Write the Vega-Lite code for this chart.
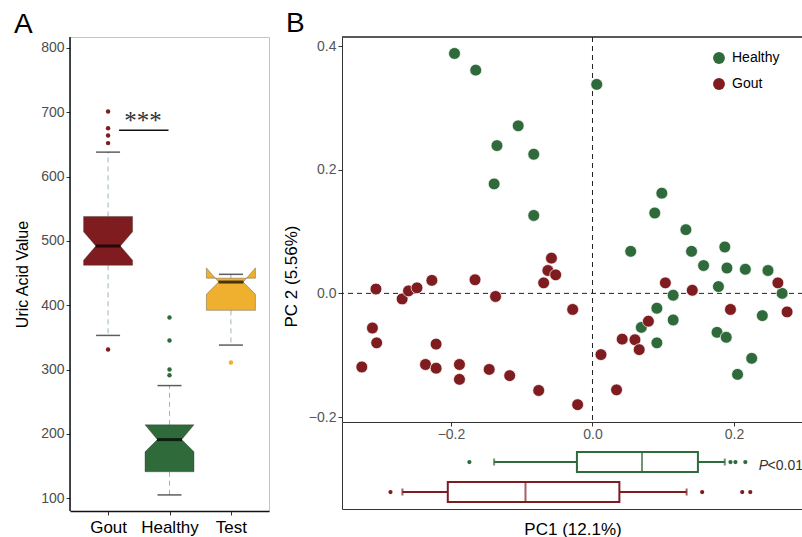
{
  "$schema": "https://vega.github.io/schema/vega-lite/v6.json",
  "padding": {"left": 13, "top": 10, "right": 0, "bottom": 0},
  "autosize": {"type": "pad"},
  "config": {"font": "Liberation Sans", "view": {"stroke": null}, "axis": {"grid": false}},
  "datasets": {
    "notch": [
      {"group": "Gout", "i": 1, "w": -1, "v": 462}, {"group": "Gout", "i": 2, "w": -1, "v": 470}, {"group": "Gout", "i": 3, "w": -0.5, "v": 492}, {"group": "Gout", "i": 4, "w": -1, "v": 514}, {"group": "Gout", "i": 5, "w": -1, "v": 538}, {"group": "Gout", "i": 6, "w": 1, "v": 538}, {"group": "Gout", "i": 7, "w": 1, "v": 514}, {"group": "Gout", "i": 8, "w": 0.5, "v": 492}, {"group": "Gout", "i": 9, "w": 1, "v": 470}, {"group": "Gout", "i": 10, "w": 1, "v": 462}, {"group": "Gout", "i": 11, "w": -1, "v": 462},
      {"group": "Healthy", "i": 1, "w": -1, "v": 141}, {"group": "Healthy", "i": 2, "w": -1, "v": 172}, {"group": "Healthy", "i": 3, "w": -0.5, "v": 191}, {"group": "Healthy", "i": 4, "w": -1, "v": 214}, {"group": "Healthy", "i": 5, "w": 1, "v": 214}, {"group": "Healthy", "i": 6, "w": 0.5, "v": 191}, {"group": "Healthy", "i": 7, "w": 1, "v": 172}, {"group": "Healthy", "i": 8, "w": 1, "v": 141}, {"group": "Healthy", "i": 9, "w": -1, "v": 141},
      {"group": "Test", "i": 1, "w": -1, "v": 392}, {"group": "Test", "i": 2, "w": -1, "v": 417}, {"group": "Test", "i": 3, "w": -0.5, "v": 436}, {"group": "Test", "i": 4, "w": -1, "v": 458}, {"group": "Test", "i": 5, "w": -1, "v": 442}, {"group": "Test", "i": 6, "w": 1, "v": 442}, {"group": "Test", "i": 7, "w": 1, "v": 458}, {"group": "Test", "i": 8, "w": 0.5, "v": 436}, {"group": "Test", "i": 9, "w": 1, "v": 417}, {"group": "Test", "i": 10, "w": 1, "v": 392}, {"group": "Test", "i": 11, "w": -1, "v": 392}
    ],
    "whiskA": [
      {"group": "Gout", "from": 538, "to": 638}, {"group": "Gout", "from": 462, "to": 353},
      {"group": "Healthy", "from": 214, "to": 275}, {"group": "Healthy", "from": 141, "to": 105},
      {"group": "Test", "from": 442, "to": 448}, {"group": "Test", "from": 392, "to": 338}
    ],
    "capsA": [
      {"group": "Gout", "v": 638}, {"group": "Gout", "v": 353},
      {"group": "Healthy", "v": 275}, {"group": "Healthy", "v": 105},
      {"group": "Test", "v": 448}, {"group": "Test", "v": 338}
    ],
    "medA": [{"group": "Gout", "v": 492}, {"group": "Healthy", "v": 191}, {"group": "Test", "v": 436}],
    "outA": [
      {"group": "Gout", "v": 701}, {"group": "Gout", "v": 675}, {"group": "Gout", "v": 664}, {"group": "Gout", "v": 652}, {"group": "Gout", "v": 331},
      {"group": "Healthy", "v": 381}, {"group": "Healthy", "v": 345}, {"group": "Healthy", "v": 300}, {"group": "Healthy", "v": 291},
      {"group": "Test", "v": 311}
    ],
    "sig": [{"from": "Gout", "to": "Healthy", "v": 672, "tv": 687, "label": "***"}],
    "panelA": [{"label": "A", "x": "Gout", "y": 817}],
    "panelB": [{"label": "B", "x": -0.354, "y": 0.4146}],
    "pca": [
      {"group": "Healthy", "pc1": -0.195, "pc2": 0.388}, {"group": "Healthy", "pc1": -0.165, "pc2": 0.361}, {"group": "Healthy", "pc1": 0.006, "pc2": 0.338},
      {"group": "Healthy", "pc1": -0.105, "pc2": 0.271}, {"group": "Healthy", "pc1": -0.135, "pc2": 0.239}, {"group": "Healthy", "pc1": -0.083, "pc2": 0.225},
      {"group": "Healthy", "pc1": -0.139, "pc2": 0.177}, {"group": "Healthy", "pc1": -0.083, "pc2": 0.126}, {"group": "Healthy", "pc1": 0.098, "pc2": 0.162},
      {"group": "Healthy", "pc1": 0.088, "pc2": 0.130}, {"group": "Healthy", "pc1": 0.132, "pc2": 0.103}, {"group": "Healthy", "pc1": 0.054, "pc2": 0.068},
      {"group": "Healthy", "pc1": 0.140, "pc2": 0.068}, {"group": "Healthy", "pc1": 0.187, "pc2": 0.075}, {"group": "Healthy", "pc1": 0.157, "pc2": 0.045},
      {"group": "Healthy", "pc1": 0.190, "pc2": 0.041}, {"group": "Healthy", "pc1": 0.216, "pc2": 0.039}, {"group": "Healthy", "pc1": 0.248, "pc2": 0.037},
      {"group": "Healthy", "pc1": 0.178, "pc2": 0.011}, {"group": "Healthy", "pc1": 0.268, "pc2": 0.0}, {"group": "Healthy", "pc1": 0.240, "pc2": -0.036},
      {"group": "Healthy", "pc1": 0.176, "pc2": -0.063}, {"group": "Healthy", "pc1": 0.189, "pc2": -0.071}, {"group": "Healthy", "pc1": 0.225, "pc2": -0.105},
      {"group": "Healthy", "pc1": 0.205, "pc2": -0.131}, {"group": "Healthy", "pc1": 0.114, "pc2": -0.003}, {"group": "Healthy", "pc1": 0.091, "pc2": -0.024},
      {"group": "Healthy", "pc1": 0.114, "pc2": -0.043}, {"group": "Healthy", "pc1": 0.069, "pc2": -0.055}, {"group": "Healthy", "pc1": 0.091, "pc2": -0.080},
      {"group": "Gout", "pc1": -0.326, "pc2": -0.119}, {"group": "Gout", "pc1": -0.311, "pc2": -0.056}, {"group": "Gout", "pc1": -0.305, "pc2": -0.080},
      {"group": "Gout", "pc1": -0.306, "pc2": 0.007}, {"group": "Gout", "pc1": -0.269, "pc2": -0.009}, {"group": "Gout", "pc1": -0.260, "pc2": 0.004},
      {"group": "Gout", "pc1": -0.248, "pc2": 0.009}, {"group": "Gout", "pc1": -0.227, "pc2": 0.021}, {"group": "Gout", "pc1": -0.221, "pc2": -0.082},
      {"group": "Gout", "pc1": -0.236, "pc2": -0.115}, {"group": "Gout", "pc1": -0.221, "pc2": -0.121}, {"group": "Gout", "pc1": -0.188, "pc2": -0.115},
      {"group": "Gout", "pc1": -0.188, "pc2": -0.139}, {"group": "Gout", "pc1": -0.166, "pc2": 0.022}, {"group": "Gout", "pc1": -0.137, "pc2": -0.005},
      {"group": "Gout", "pc1": -0.146, "pc2": -0.123}, {"group": "Gout", "pc1": -0.117, "pc2": -0.133}, {"group": "Gout", "pc1": -0.058, "pc2": 0.057},
      {"group": "Gout", "pc1": -0.063, "pc2": 0.037}, {"group": "Gout", "pc1": -0.052, "pc2": 0.030}, {"group": "Gout", "pc1": -0.069, "pc2": 0.017},
      {"group": "Gout", "pc1": -0.076, "pc2": -0.157}, {"group": "Gout", "pc1": -0.028, "pc2": -0.026}, {"group": "Gout", "pc1": -0.021, "pc2": -0.180},
      {"group": "Gout", "pc1": 0.012, "pc2": -0.099}, {"group": "Gout", "pc1": 0.034, "pc2": -0.156}, {"group": "Gout", "pc1": 0.042, "pc2": -0.074},
      {"group": "Gout", "pc1": 0.060, "pc2": -0.075}, {"group": "Gout", "pc1": 0.066, "pc2": -0.091}, {"group": "Gout", "pc1": 0.079, "pc2": -0.045},
      {"group": "Gout", "pc1": 0.103, "pc2": 0.017}, {"group": "Gout", "pc1": 0.141, "pc2": 0.005}, {"group": "Gout", "pc1": 0.195, "pc2": -0.026},
      {"group": "Gout", "pc1": 0.262, "pc2": 0.017}, {"group": "Gout", "pc1": 0.275, "pc2": -0.030}
    ],
    "boxB": [
      {"group": "Healthy", "lo": -0.139, "q1": -0.022, "med": 0.070, "q3": 0.149, "hi": 0.187},
      {"group": "Gout", "lo": -0.2686, "q1": -0.2045, "med": -0.0947, "q3": 0.038, "hi": 0.133}
    ],
    "outB": [
      {"group": "Healthy", "pc1": -0.174}, {"group": "Healthy", "pc1": 0.195}, {"group": "Healthy", "pc1": 0.202}, {"group": "Healthy", "pc1": 0.216},
      {"group": "Gout", "pc1": -0.2855}, {"group": "Gout", "pc1": 0.155}, {"group": "Gout", "pc1": 0.2116}, {"group": "Gout", "pc1": 0.223}
    ],
    "pval": [{"group": "Healthy", "p": "P", "rest": "<0.01", "x": 0.2975}]
  },
  "spacing": 73,
  "bounds": "flush",
  "resolve": {"scale": {"color": "independent", "x": "independent", "y": "independent"}, "legend": {"color": "independent"}},
  "hconcat": [
    {
      "width": 199,
      "height": 474,
      "view": {"stroke": "#B7C9CF"},
      "encoding": {
        "x": {"field": "group", "type": "nominal", "scale": {"type": "point", "domain": ["Gout", "Healthy", "Test"], "padding": 0.62},
          "axis": {"title": null, "labelAngle": 0, "labelFontSize": 17, "labelColor": "#000", "labelPadding": 4, "tickSize": 4, "tickColor": "#333", "domainColor": "#111", "domainWidth": 1.5}},
        "y": {"type": "quantitative", "scale": {"domain": [80, 817], "nice": false, "zero": false},
          "axis": {"title": "Uric Acid Value", "titleFontSize": 16, "titleFontWeight": "normal", "titleColor": "#000", "titlePadding": 10, "values": [100, 200, 300, 400, 500, 600, 700, 800], "labelFontSize": 14, "labelColor": "#4D4D4D", "tickSize": 4, "tickColor": "#333", "labelPadding": 2, "domain": false}}
      },
      "layer": [
        {"data": {"name": "whiskA"}, "mark": {"type": "rule", "stroke": "#9FB4BE", "strokeDash": [5, 4], "strokeWidth": 1},
          "encoding": {"y": {"field": "from", "type": "quantitative"}, "y2": {"field": "to"}}},
        {"data": {"name": "notch"}, "mark": {"type": "line", "stroke": "#333333", "strokeWidth": 0.6, "strokeOpacity": 0.6, "interpolate": "linear"},
          "encoding": {"y": {"field": "v", "type": "quantitative"},
            "xOffset": {"field": "w", "type": "quantitative", "scale": {"domain": [-1, 1], "range": [-24.5, 24.5]}},
            "fill": {"field": "group", "type": "nominal", "scale": {"domain": ["Gout", "Healthy", "Test"], "range": ["#7E1C20", "#2F6A3B", "#EFB02F"]}, "legend": null},
            "order": {"field": "i", "type": "quantitative"}}},
        {"data": {"name": "medA"}, "mark": {"type": "tick", "color": "#000", "size": 25, "thickness": 3},
          "encoding": {"y": {"field": "v", "type": "quantitative"}}},
        {"data": {"name": "capsA"}, "mark": {"type": "tick", "color": "#1A1A1A", "size": 24, "thickness": 1.5},
          "encoding": {"y": {"field": "v", "type": "quantitative"}}},
        {"data": {"name": "outA"}, "mark": {"type": "circle", "size": 20, "opacity": 1},
          "encoding": {"y": {"field": "v", "type": "quantitative"},
            "color": {"field": "group", "type": "nominal", "scale": {"domain": ["Gout", "Healthy", "Test"], "range": ["#7E1C20", "#2F6A3B", "#EFB02F"]}, "legend": null}}},
        {"data": {"name": "sig"}, "mark": {"type": "rule", "color": "#111", "strokeWidth": 1.5, "xOffset": 11, "x2Offset": -1},
          "encoding": {"x": {"field": "from", "type": "nominal"}, "x2": {"field": "to"}, "y": {"field": "v", "type": "quantitative"}}},
        {"data": {"name": "sig"}, "mark": {"type": "text", "font": "Liberation Serif", "fontSize": 25, "dx": 35, "baseline": "middle", "color": "#333"},
          "encoding": {"x": {"field": "from", "type": "nominal"}, "y": {"field": "tv", "type": "quantitative"}, "text": {"field": "label"}}},
        {"data": {"values": [{}]}, "mark": {"type": "rule", "color": "#111", "strokeWidth": 1.5},
          "encoding": {"y": {"datum": 817}}},
        {"data": {"name": "panelA"}, "mark": {"type": "text", "fontSize": 28, "align": "left", "baseline": "alphabetic", "dx": -94, "dy": -4, "color": "#000"},
          "encoding": {"x": {"field": "x", "type": "nominal"}, "y": {"field": "y", "type": "quantitative"}, "text": {"field": "label"}}}
      ]
    },
    {
      "spacing": 0,
      "bounds": "flush",
      "resolve": {"scale": {"color": "independent", "y": "independent"}, "legend": {"color": "independent"}},
      "vconcat": [
        {
          "width": 461,
          "height": 385,
          "encoding": {
            "x": {"type": "quantitative", "scale": {"domain": [-0.354, 0.2975], "nice": false, "zero": false},
              "axis": {"title": null, "values": [-0.2, 0, 0.2], "format": ".1f", "labelFontSize": 14, "labelColor": "#555", "tickSize": 4, "tickColor": "#333", "domainColor": "#333", "labelPadding": 1}},
            "y": {"type": "quantitative", "scale": {"domain": [-0.208, 0.4146], "nice": false, "zero": false},
              "axis": {"title": "PC 2 (5.56%)", "titleFontSize": 17, "titleFontWeight": "normal", "titleColor": "#000", "titlePadding": 8, "titleY": 239, "values": [-0.2, 0, 0.2, 0.4], "format": ".1f", "labelFontSize": 14, "labelColor": "#555", "tickSize": 4, "tickColor": "#333", "domainColor": "#333", "labelPadding": 2}}
          },
          "layer": [
            {"data": {"values": [{}]}, "mark": {"type": "rule", "color": "#222", "strokeDash": [5, 4], "strokeWidth": 1}, "encoding": {"x": {"datum": 0}}},
            {"data": {"values": [{}]}, "mark": {"type": "rule", "color": "#222", "strokeDash": [5, 4], "strokeWidth": 1}, "encoding": {"y": {"datum": 0}}},
            {"data": {"values": [{}]}, "mark": {"type": "rule", "color": "#222", "strokeWidth": 1.5}, "encoding": {"y": {"datum": 0.4146}}},
            {"data": {"name": "pca"}, "mark": {"type": "circle", "size": 140, "opacity": 1, "stroke": "#ffffff", "strokeWidth": 0.7},
              "encoding": {
                "x": {"field": "pc1", "type": "quantitative"},
                "y": {"field": "pc2", "type": "quantitative"},
                "color": {"field": "group", "type": "nominal", "scale": {"domain": ["Healthy", "Gout"], "range": ["#2F6A3B", "#7E1C20"]},
                  "legend": {"title": null, "orient": "none", "legendX": 370, "legendY": 14, "labelFontSize": 14, "labelColor": "#000", "symbolSize": 140, "symbolType": "circle", "rowPadding": 12, "labelOffset": 6, "symbolStrokeWidth": 0}}
              }},
            {"data": {"name": "panelB"}, "mark": {"type": "text", "fontSize": 28, "align": "left", "baseline": "alphabetic", "dx": -56, "dy": -5, "color": "#000"},
              "encoding": {"x": {"field": "x", "type": "quantitative"}, "y": {"field": "y", "type": "quantitative"}, "text": {"field": "label"}}}
          ]
        },
        {
          "width": 461,
          "height": 87,
          "encoding": {
            "x": {"type": "quantitative", "scale": {"domain": [-0.354, 0.2975], "nice": false, "zero": false},
              "axis": {"title": "PC1 (12.1%)", "titleFontSize": 17, "titleFontWeight": "normal", "titleColor": "#000", "titlePadding": 12, "labels": false, "ticks": false, "domainColor": "#333"}},
            "y": {"field": "group", "type": "nominal", "scale": {"type": "point", "domain": ["Healthy", "Gout"], "padding": 0.95, "align": 0.702},
              "axis": {"title": null, "labels": false, "ticks": false, "domainColor": "#333"}},
            "color": {"field": "group", "type": "nominal", "scale": {"domain": ["Healthy", "Gout"], "range": ["#2F6A3B", "#7E1C20"]}, "legend": null}
          },
          "layer": [
            {"data": {"name": "boxB"}, "mark": {"type": "rule", "strokeWidth": 2},
              "encoding": {"x": {"field": "lo", "type": "quantitative"}, "x2": {"field": "hi"}}},
            {"data": {"name": "boxB"}, "mark": {"type": "tick", "size": 7, "thickness": 2},
              "encoding": {"x": {"field": "lo", "type": "quantitative"}}},
            {"data": {"name": "boxB"}, "mark": {"type": "tick", "size": 7, "thickness": 2},
              "encoding": {"x": {"field": "hi", "type": "quantitative"}}},
            {"data": {"name": "boxB"}, "mark": {"type": "bar", "size": 20, "fill": "#ffffff", "strokeWidth": 2},
              "encoding": {"x": {"field": "q1", "type": "quantitative"}, "x2": {"field": "q3"},
                "stroke": {"field": "group", "type": "nominal", "scale": {"domain": ["Healthy", "Gout"], "range": ["#2F6A3B", "#7E1C20"]}, "legend": null}}},
            {"data": {"name": "boxB"}, "mark": {"type": "tick", "size": 20, "thickness": 2},
              "encoding": {"x": {"field": "med", "type": "quantitative"}}},
            {"data": {"name": "outB"}, "mark": {"type": "circle", "size": 18, "opacity": 1},
              "encoding": {"x": {"field": "pc1", "type": "quantitative"}}},
            {"data": {"name": "pval"}, "mark": {"type": "text", "fontSize": 14, "align": "right", "baseline": "middle", "dy": 4, "color": "#333"},
              "encoding": {"x": {"field": "x", "type": "quantitative"}, "text": {"field": "rest"}, "color": {"value": "#333"}}},
            {"data": {"name": "pval"}, "mark": {"type": "text", "fontSize": 14, "fontStyle": "italic", "align": "right", "baseline": "middle", "dy": 4, "dx": -35, "color": "#333"},
              "encoding": {"x": {"field": "x", "type": "quantitative"}, "text": {"field": "p"}, "color": {"value": "#333"}}}
          ]
        }
      ]
    }
  ]
}
